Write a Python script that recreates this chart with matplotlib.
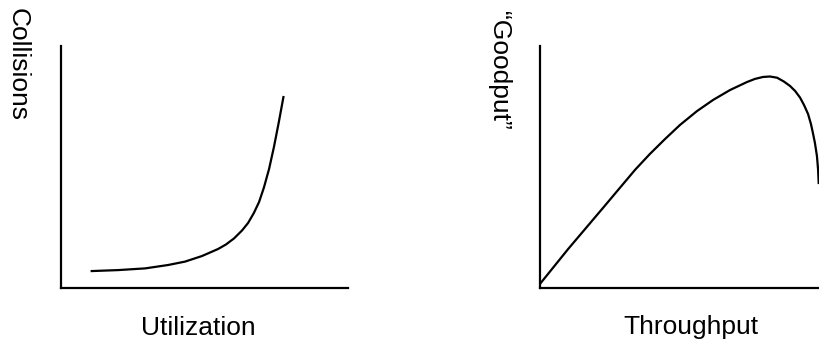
import matplotlib
matplotlib.use('Agg')
import matplotlib.pyplot as plt

plt.rcParams['font.family'] = ['Liberation Sans', 'DejaVu Sans']

# collisions vs utilization (sketch curve, axis units 0-100)
util = [10.7, 19.9, 29.3, 37.3, 43.2, 49.1, 54.7, 57.5, 60.3, 63.1, 65.2,
        67.2, 69.0, 70.7, 72.5, 74.2, 75.9, 77.5]
collisions = [7.0, 7.4, 8.1, 9.5, 10.9, 13.2, 16.1, 18.0, 20.5, 23.8, 26.9,
              31.0, 35.5, 41.5, 49.2, 58.3, 68.6, 78.9]

# goodput vs throughput
throughput = [0.0, 9.8, 21.6, 33.1, 38.3, 43.6, 48.8, 54.7, 60.3, 66.2, 72.1,
              74.9, 77.7, 80.1, 82.6, 85.0, 87.1, 88.9, 90.6, 92.0, 93.4,
              94.4, 95.1, 95.8, 96.5, 96.9, 97.1]
goodput = [1.7, 16.1, 32.6, 48.8, 55.4, 61.6, 67.4, 73.1, 77.7, 81.8, 85.1,
           86.4, 87.2, 87.4, 86.9, 85.3, 83.5, 81.4, 78.7, 75.6, 71.9,
           67.8, 64.0, 59.9, 54.5, 48.8, 43.4]

fig = plt.figure(figsize=(8.19, 3.41), dpi=100)

def make_axes(rect):
    ax = fig.add_axes(rect)
    ax.set_xlim(0, 100)
    ax.set_ylim(0, 100)
    for s in ['top', 'right']:
        ax.spines[s].set_visible(False)
    for s in ['left', 'bottom']:
        ax.spines[s].set_linewidth(1.6)
    ax.set_xticks([])
    ax.set_yticks([])
    ax.patch.set_visible(False)
    return ax

ax1 = make_axes([61/819, 1-288/341, 287/819, 242/341])
ax1.plot(util, collisions, color='black', lw=1.6, solid_joinstyle='round')

ax2 = make_axes([540/819, 1-288/341, 287/819, 242/341])
ax2.plot(throughput, goodput, color='black', lw=1.6, solid_joinstyle='round')

fs = 19
fig.text(198/819, 1-328/341, 'Utilization', ha='center', va='center', fontsize=fs)
fig.text(691/819, 1-327/341, 'Throughput', ha='center', va='center', fontsize=fs)
fig.text(18/819, 1-65/341, 'Collisions', ha='center', va='center', rotation=270, fontsize=fs)
fig.text(499/819, 1-70/341, '\u201cGoodput\u201d', ha='center', va='center', rotation=270, fontsize=fs)

fig.savefig('out.png', dpi=100)
